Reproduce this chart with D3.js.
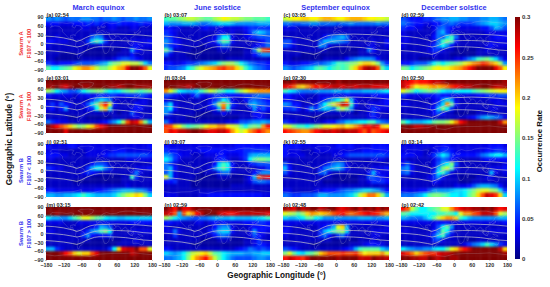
<!DOCTYPE html>
<html>
<head>
<meta charset="utf-8">
<script src="https://cdn.jsdelivr.net/npm/d3@7"></script>
<style>
  html, body { margin: 0; padding: 0; background: #fff; }
  text { font-family: "Liberation Sans", Arial, sans-serif; font-weight: bold; }
  .tick text { fill: #333; font-size: 5.4px; }
  .tick line, .domain { stroke: #666; stroke-width: 0.4; }
</style>
</head>
<body>
<script>
// Occurrence rate per panel in hundredths, rows from 90N to 90S (15 deg), columns from 180W (15 deg)
const panelA = [
[8,7,8,7,6,7,7,7,8,8,7,7,6,7,7,8,7,6,7,7,8,7,7,8],
[4,4,4,3,3,3,4,4,4,5,4,5,4,3,4,4,5,4,4,4,4,5,4,4],
[2,2,2,2,2,2,2,2,3,3,2,2,2,2,3,3,2,2,2,3,3,2,2,2],
[2,2,2,2,2,2,2,2,2,2,2,2,2,2,2,2,2,2,2,2,2,2,2,2],
[2,2,3,2,2,2,2,2,2,2,6,8,7,2,2,2,2,2,2,2,2,2,2,2],
[4,4,3,3,3,2,2,2,2,5,10,13,11,5,2,2,2,2,2,3,3,3,3,4],
[3,2,2,2,2,2,2,2,2,2,2,2,3,2,2,2,2,2,2,3,4,3,3,3],
[2,2,2,2,2,2,2,2,2,1,1,1,1,1,1,1,1,2,2,8,4,3,2,2],
[2,2,2,1,1,1,1,2,1,1,1,1,1,1,1,1,2,2,2,4,2,2,2,2],
[2,2,1,1,1,1,1,1,2,2,2,2,2,2,2,3,5,6,6,5,4,3,2,2],
[5,4,3,4,4,4,5,6,6,6,6,7,8,9,13,15,16,18,18,17,17,15,10,7],
[14,11,11,13,14,15,18,20,22,22,20,17,15,15,17,19,21,22,27,30,30,28,24,18]];
const panelB = [
[13,14,14,15,16,17,17,16,15,14,14,16,17,19,18,17,17,16,15,15,14,14,14,13],
[9,8,8,8,9,9,9,8,7,7,8,9,10,10,10,9,8,8,8,8,8,9,9,9],
[4,4,3,3,2,2,2,2,3,4,3,3,3,3,3,3,3,3,4,5,5,5,5,5],
[5,4,3,2,2,2,2,2,2,2,2,2,3,3,2,3,2,2,3,5,8,10,9,7],
[6,5,3,2,2,2,2,2,2,2,2,3,7,11,11,3,2,2,3,4,5,6,6,6],
[8,6,4,3,2,2,2,2,2,2,3,4,9,14,13,4,2,2,2,2,2,3,4,6],
[7,5,4,3,2,2,2,2,1,2,2,2,4,7,6,2,2,2,2,2,3,4,5,7],
[14,8,2,2,2,2,1,1,1,1,1,1,2,2,2,1,1,1,2,2,7,16,24,25],
[6,3,2,2,2,1,1,1,1,1,1,1,1,1,1,1,1,1,2,2,4,6,8,8],
[2,2,2,2,2,2,1,1,1,1,1,1,1,1,2,2,2,2,2,2,2,2,2,2],
[4,4,3,3,4,5,5,6,7,8,9,10,13,15,16,16,14,11,9,7,6,5,5,4],
[5,6,6,7,8,11,13,16,18,20,21,22,24,25,23,23,20,17,13,10,8,7,6,5]];
const panelC = [
[17,18,19,19,20,20,19,19,20,21,21,20,19,19,20,21,21,21,20,19,19,18,18,17],
[7,7,6,6,7,7,8,8,7,7,7,7,6,7,7,8,7,7,7,7,7,8,7,7],
[3,3,3,2,2,2,2,2,2,2,2,2,2,2,2,2,2,2,2,2,2,2,2,3],
[2,2,2,2,2,2,2,2,2,2,2,2,2,2,2,2,2,2,2,2,2,2,2,2],
[2,2,2,2,2,2,2,2,2,4,6,7,8,9,7,2,2,2,2,2,2,2,2,2],
[6,6,3,2,2,2,2,2,6,9,9,9,8,7,6,2,2,2,2,2,3,2,2,4],
[6,5,3,2,2,2,2,2,8,7,3,2,2,2,2,2,2,2,2,3,3,2,2,3],
[2,2,2,2,2,2,2,2,2,2,1,1,1,1,1,1,1,2,2,7,4,2,2,2],
[2,2,2,2,1,1,1,1,1,1,1,1,1,1,1,1,1,2,2,2,2,2,2,2],
[2,2,1,1,1,1,1,1,1,2,2,2,2,2,4,6,7,8,8,8,7,4,2,2],
[4,3,3,3,4,4,5,6,6,7,8,10,13,13,14,15,16,18,20,20,18,15,8,5],
[8,7,6,7,8,9,10,13,14,13,11,13,14,13,14,17,20,24,28,29,28,24,14,10]];
const panelD = [
[6,5,4,4,4,5,5,6,7,8,8,9,9,8,8,7,7,7,8,8,9,9,8,7],
[7,6,5,4,4,3,3,4,4,6,6,7,6,5,5,5,6,7,8,9,10,10,9,8],
[5,4,4,3,3,2,2,3,6,7,5,4,3,3,3,3,3,3,4,4,6,9,8,6],
[3,2,2,2,2,2,2,3,7,9,5,3,2,2,2,2,2,2,2,3,3,3,3,3],
[3,3,2,2,2,2,2,4,7,6,10,13,7,2,2,2,2,2,2,2,3,4,4,4],
[3,3,2,2,2,2,2,3,7,13,15,13,4,2,2,2,2,2,2,2,3,3,3,3],
[3,2,2,2,2,2,3,5,8,11,8,4,2,2,2,2,2,2,2,3,4,3,3,3],
[2,2,2,2,2,2,3,5,5,3,2,2,1,1,1,1,1,2,2,3,2,2,2,2],
[2,2,2,2,2,2,2,3,2,2,2,1,1,1,1,1,1,2,2,2,2,2,2,2],
[2,2,2,2,1,1,1,2,2,2,2,2,3,3,5,7,9,13,14,15,13,10,6,3],
[4,4,5,6,6,6,8,11,13,11,13,14,15,16,18,20,22,23,25,24,22,20,16,8],
[15,14,11,13,14,15,16,18,19,18,18,20,21,22,24,26,28,30,30,30,30,27,24,19]];
const panelE = [
[30,30,30,30,30,30,30,30,30,30,30,30,30,30,30,30,30,30,30,30,30,30,30,30],
[29,29,30,28,27,29,30,30,29,29,30,30,30,30,29,29,28,29,30,30,29,29,29,29],
[16,14,11,9,8,6,6,8,11,13,14,15,15,13,11,10,11,13,14,15,14,13,14,15],
[4,3,3,3,3,3,2,3,3,4,3,4,5,4,5,5,4,4,5,5,5,6,5,4],
[2,2,2,2,2,2,2,2,2,2,5,8,10,9,7,2,2,2,2,2,2,3,3,2],
[3,5,3,6,4,3,2,2,3,6,10,14,22,26,18,4,2,2,2,2,4,3,3,2],
[3,4,2,4,8,2,2,2,2,4,5,11,17,21,10,2,2,2,2,3,4,4,2,2],
[2,2,2,2,2,2,2,2,2,2,2,2,2,2,2,2,1,2,2,6,3,2,2,2],
[2,2,2,2,2,1,1,2,2,1,1,1,1,1,1,2,2,2,2,3,3,3,2,2],
[7,5,4,3,3,2,2,2,2,2,2,2,3,4,6,8,11,16,24,28,27,22,15,9],
[30,28,26,24,22,20,17,15,16,18,20,24,26,28,30,30,30,30,30,30,30,30,30,30],
[30,30,30,30,27,30,30,30,30,30,30,30,30,30,30,30,30,30,30,30,30,30,30,30]];
const panelF = [
[30,30,30,30,30,30,30,30,30,30,30,30,30,30,30,30,30,30,30,30,30,30,30,30],
[30,30,30,29,29,28,29,30,30,30,30,30,30,30,30,30,30,30,30,30,30,30,30,30],
[22,18,15,11,10,9,9,10,13,15,17,16,14,13,11,11,14,16,18,20,21,22,22,22],
[6,5,4,3,3,2,4,7,4,3,4,5,5,4,4,4,4,4,5,5,6,7,7,7],
[3,2,2,2,2,2,2,2,2,2,3,5,7,11,9,3,2,2,4,6,7,6,5,4],
[7,10,3,2,2,2,2,2,2,2,4,8,16,22,14,5,3,2,2,8,9,7,6,5],
[8,11,4,2,2,2,2,2,2,2,3,4,9,24,11,3,2,2,2,3,8,4,6,4],
[8,5,2,2,2,2,2,1,1,1,1,2,2,4,2,2,2,2,2,2,4,4,3,2],
[2,2,2,2,2,1,1,1,1,1,1,1,1,1,1,1,1,2,2,2,3,4,3,2],
[7,4,2,2,2,2,2,2,2,2,2,2,2,2,3,3,4,6,6,7,8,8,9,8],
[25,24,20,18,15,13,14,15,16,18,20,20,22,22,19,18,17,14,11,14,15,14,22,26],
[24,27,26,28,28,29,30,30,29,28,27,27,28,28,26,22,19,17,19,22,24,26,24,22]];
const panelG = [
[30,30,29,30,30,30,30,30,30,30,30,30,29,30,30,30,30,30,30,30,30,30,30,30],
[27,26,24,21,20,22,24,26,25,27,27,28,28,27,28,28,27,28,28,28,27,27,27,27],
[13,11,10,8,7,7,7,8,8,8,8,9,9,8,9,8,8,8,9,9,9,9,10,11],
[4,4,3,3,3,2,2,2,3,3,3,3,3,3,4,3,3,3,3,3,4,4,4,4],
[4,4,3,2,2,2,2,2,3,5,7,9,11,14,18,9,3,2,2,2,2,2,3,4],
[8,7,4,4,2,2,2,3,7,11,15,18,22,28,26,13,4,2,2,3,3,3,3,4],
[5,5,6,4,2,4,8,5,8,10,9,7,14,17,14,8,2,2,2,3,5,4,3,3],
[2,2,2,2,2,2,2,2,2,2,2,2,2,2,2,2,1,2,2,3,5,3,2,2],
[2,2,2,2,2,2,1,1,1,1,1,1,1,2,2,2,2,2,2,3,4,3,2,2],
[5,4,3,2,2,2,2,2,2,3,4,4,6,7,9,9,10,11,11,13,13,9,7,6],
[18,17,15,13,13,11,13,15,16,18,18,19,20,21,19,20,22,24,27,26,28,26,20,19],
[26,25,24,23,22,22,24,26,27,28,28,27,28,29,28,28,28,26,24,27,24,25,26,27]];
const panelH = [
[28,27,26,25,26,26,27,28,28,29,30,30,30,30,30,30,30,30,30,30,30,30,30,29],
[28,26,22,19,20,20,21,22,21,22,23,25,26,27,28,28,29,29,30,30,29,28,28,29],
[18,16,14,11,13,14,15,14,13,11,10,10,11,11,11,11,13,14,15,16,17,18,19,19],
[5,4,3,3,3,4,4,4,5,4,4,3,3,3,3,3,3,4,4,5,5,5,6,6],
[2,2,2,2,2,2,2,3,4,8,10,8,3,2,2,2,2,2,2,2,3,3,3,2],
[3,3,2,2,2,2,2,3,6,10,22,14,4,2,2,2,2,2,2,2,2,3,3,3],
[2,2,2,2,2,2,3,4,10,15,11,5,2,2,2,2,2,2,2,2,3,3,2,2],
[2,2,2,2,2,2,2,4,6,4,2,2,1,1,1,1,1,2,2,2,2,2,2,2],
[2,2,2,2,2,2,2,2,2,2,2,2,2,2,2,3,4,6,8,9,8,7,6,3],
[14,11,9,9,9,10,11,14,15,15,16,18,22,26,28,30,30,30,30,30,30,30,28,22],
[30,30,29,28,28,29,29,30,30,30,30,30,30,30,30,30,30,30,30,30,30,30,30,30],
[30,30,30,30,30,30,30,30,30,30,30,30,30,30,30,30,30,30,30,30,30,30,30,30]];
const panelI = [
[4,3,3,3,3,4,4,3,3,3,3,3,3,3,3,3,3,3,3,3,3,3,3,4],
[3,3,3,2,2,2,2,2,2,3,3,3,3,3,3,4,4,4,3,3,3,3,3,3],
[4,4,4,3,3,2,2,2,2,3,3,3,3,4,5,5,6,6,6,6,6,6,6,5],
[3,3,2,2,2,2,2,2,2,2,2,2,2,2,2,2,2,2,3,3,3,3,3,3],
[2,2,2,2,2,2,2,2,2,2,4,6,6,5,2,2,2,2,2,2,2,2,2,2],
[5,4,3,3,2,2,2,2,2,5,9,11,11,7,5,2,2,2,2,2,3,3,3,4],
[2,2,2,2,2,2,2,2,3,5,4,3,2,2,2,2,2,2,2,3,7,3,2,2],
[2,2,2,2,2,2,2,2,2,2,1,1,1,1,1,1,1,2,2,13,5,2,2,2],
[2,2,2,2,2,2,1,1,1,1,1,1,1,1,1,1,1,2,2,2,2,2,2,2],
[2,2,2,2,2,2,2,2,2,2,2,2,2,2,2,2,2,2,3,2,2,2,2,2],
[4,4,3,3,3,3,3,3,3,3,3,4,4,5,6,7,8,9,9,9,8,8,7,5],
[9,9,8,8,9,9,10,11,13,11,10,9,9,9,9,10,13,15,17,18,20,19,15,10]];
const panelJ = [
[4,3,3,3,3,3,3,3,3,3,3,3,3,3,3,3,4,4,4,4,4,4,4,4],
[5,4,4,3,3,3,3,3,4,4,4,4,4,4,4,4,4,4,5,5,5,5,5,5],
[8,7,5,4,3,3,2,2,2,3,3,3,4,4,3,3,3,4,5,8,9,9,9,9],
[11,9,5,3,2,2,2,2,2,2,2,3,4,5,3,2,2,3,5,11,14,15,15,14],
[7,5,3,2,2,2,2,2,2,2,2,4,10,13,11,4,2,2,2,4,5,6,6,6],
[7,9,4,2,2,2,2,2,2,2,3,7,11,14,11,4,2,2,2,2,2,3,3,5],
[6,9,3,2,2,2,2,2,1,2,2,2,5,7,7,2,2,2,2,2,4,6,8,8],
[18,9,3,2,2,2,2,1,1,1,1,1,2,2,2,1,1,1,2,4,9,24,27,26],
[4,4,5,2,2,2,1,1,1,1,1,1,1,1,1,1,1,1,2,3,6,7,7,6],
[2,2,2,2,2,2,1,1,1,1,1,1,1,1,1,2,2,2,2,2,2,2,2,2],
[2,2,2,2,2,2,2,2,2,2,2,2,2,2,2,2,2,2,2,2,2,2,2,2],
[3,3,3,2,2,2,2,2,3,3,4,4,4,4,4,4,4,4,4,4,4,4,3,3]];
const panelK = [
[4,4,4,4,3,3,3,3,3,3,3,3,4,4,4,4,3,3,3,3,4,4,4,4],
[4,3,3,3,2,2,2,3,3,3,3,3,3,3,3,3,3,3,4,4,4,4,4,4],
[4,3,3,3,3,2,2,2,2,2,2,3,3,4,5,6,6,6,6,6,6,6,6,5],
[2,2,2,2,2,2,2,2,2,2,2,2,2,2,2,2,2,2,2,2,3,3,3,2],
[6,3,2,2,2,2,2,2,2,3,5,7,8,7,3,2,2,2,2,2,2,2,2,2],
[9,4,2,2,2,2,2,2,4,7,8,9,10,7,4,2,2,2,2,2,3,3,3,4],
[6,3,2,2,2,2,2,2,6,7,3,2,2,2,2,2,2,2,2,4,9,4,3,3],
[2,2,2,2,2,2,2,2,2,2,2,1,1,1,1,1,1,2,2,6,6,5,4,3],
[2,2,2,2,2,2,2,2,2,1,1,1,1,1,1,1,1,2,2,3,5,5,5,4],
[2,2,2,2,2,2,2,2,2,2,2,2,2,2,2,2,2,2,2,2,2,2,2,2],
[3,3,2,2,2,2,2,3,3,4,4,4,5,6,7,7,8,9,10,10,9,8,6,4],
[7,6,5,5,6,6,6,7,9,9,8,8,8,8,9,10,13,17,20,23,23,20,15,9]];
const panelL = [
[3,3,3,3,3,3,3,3,3,4,4,3,3,3,3,3,3,3,3,3,4,4,4,3],
[3,3,3,3,3,2,2,3,4,5,5,4,3,3,3,3,3,3,3,4,4,5,5,4],
[4,4,4,3,3,2,3,5,8,11,9,5,4,4,4,4,4,5,7,8,10,11,11,9],
[3,2,2,2,2,2,2,3,5,7,6,4,3,2,2,2,2,2,3,4,4,4,4,4],
[4,6,3,2,2,2,2,3,6,9,11,15,6,2,2,2,2,2,2,2,2,2,2,3],
[7,8,4,2,2,2,2,3,9,15,17,13,4,2,2,2,2,2,2,2,3,3,3,4],
[6,7,3,2,2,2,2,5,11,13,8,3,2,2,2,2,2,2,2,2,9,3,2,3],
[2,2,2,2,2,2,3,5,8,4,2,2,2,1,1,1,1,2,2,3,3,2,2,2],
[2,2,2,2,2,2,2,4,3,2,2,2,2,1,1,1,2,2,2,2,2,2,2,2],
[2,2,2,2,2,2,2,2,2,2,2,2,3,3,3,4,6,8,9,9,8,7,4,2],
[3,3,3,3,4,4,6,8,8,8,8,9,10,10,11,13,15,17,18,18,16,15,10,5],
[7,7,7,8,9,11,14,15,15,14,13,11,11,10,11,14,16,20,24,28,27,25,20,10]];
const panelM = [
[30,30,30,30,30,30,30,30,30,30,30,30,30,30,30,30,30,30,30,30,30,30,30,30],
[30,30,29,30,30,30,30,30,30,30,30,30,30,30,30,30,30,30,30,30,30,30,30,30],
[11,9,9,8,8,10,13,15,18,18,16,14,13,11,10,10,9,9,10,10,10,10,10,10],
[3,3,3,3,2,2,2,3,3,3,3,3,3,3,3,3,3,3,3,4,4,4,4,4],
[2,2,2,2,2,2,2,2,2,2,3,5,9,8,6,2,2,2,2,2,2,2,2,2],
[3,3,2,2,2,2,2,2,3,5,8,9,13,15,11,2,2,2,2,3,3,3,3,3],
[2,2,2,2,2,2,2,2,5,8,4,3,4,4,5,2,2,2,2,2,2,2,2,2],
[2,2,2,2,2,2,2,2,2,2,1,1,1,1,1,1,1,2,2,2,3,2,2,2],
[2,2,2,2,2,2,1,1,1,1,1,1,1,1,1,1,2,2,2,2,2,2,2,2],
[9,9,5,3,2,2,2,2,2,2,2,2,2,2,5,11,20,27,28,28,30,24,24,18],
[30,30,30,29,26,24,20,18,20,20,24,27,30,30,30,30,30,30,30,28,29,30,30,30],
[30,30,30,30,30,30,30,30,30,30,30,30,30,30,30,30,30,30,30,30,30,30,30,30]];
const panelN = [
[30,28,26,30,27,27,29,30,30,30,30,30,30,30,30,30,30,30,30,30,30,30,30,30],
[28,27,24,9,24,20,22,26,28,30,30,30,28,27,26,26,27,28,28,28,28,28,28,27],
[16,14,11,9,8,7,6,6,7,7,8,9,9,9,9,10,9,9,9,9,10,10,11,13],
[4,4,3,3,2,2,2,3,3,2,3,4,3,4,3,3,3,3,4,4,4,5,5,4],
[3,2,2,2,2,2,2,2,2,2,2,4,7,8,8,3,2,2,2,3,4,4,4,4],
[3,3,7,3,2,2,2,2,2,2,4,6,9,10,10,4,2,2,2,3,8,4,4,3],
[2,2,5,2,2,2,2,2,2,2,2,4,6,7,6,2,2,2,2,3,6,4,3,2],
[2,2,2,2,2,2,2,2,1,1,1,1,2,2,2,1,1,1,2,2,3,5,2,2],
[2,2,2,2,2,2,1,1,1,1,1,1,1,1,1,1,1,1,2,2,3,5,4,3],
[4,3,2,2,2,2,2,2,2,2,2,2,2,2,2,2,3,4,5,7,6,5,6,5],
[10,9,8,9,11,14,17,18,19,20,17,14,13,11,10,9,9,9,8,8,9,9,10,10],
[7,7,8,9,11,15,19,22,24,26,22,17,14,11,9,7,6,6,6,6,7,8,8,7]];
const panelO = [
[29,28,27,30,28,29,30,30,28,29,30,30,28,27,28,29,30,28,30,29,30,28,30,29],
[18,17,16,14,16,20,22,21,20,21,22,24,25,26,24,23,24,25,26,27,26,25,23,21],
[10,9,9,10,11,14,14,11,10,8,8,8,8,8,8,8,8,9,9,9,8,8,8,9],
[3,3,3,3,3,3,3,3,3,3,3,3,3,3,3,3,3,3,3,3,3,3,3,3],
[3,3,2,2,2,2,2,2,3,4,6,9,18,20,9,2,2,2,2,2,2,2,2,3],
[4,3,2,2,2,2,2,2,5,9,11,13,15,16,10,2,2,2,2,2,3,3,3,3],
[3,2,2,2,2,2,2,2,5,7,4,2,5,7,4,2,2,2,2,2,3,3,2,2],
[2,2,2,2,2,2,2,2,2,2,2,1,1,1,1,1,1,2,2,2,3,2,2,2],
[2,2,2,2,2,2,1,1,1,1,1,1,1,1,1,2,2,2,3,4,4,4,3,2],
[6,5,4,3,2,2,2,2,2,2,2,2,2,3,4,5,9,13,14,14,14,14,10,8],
[15,18,14,11,10,13,14,16,20,22,24,24,24,25,24,24,25,22,19,20,20,20,22,18],
[26,28,27,26,25,28,30,30,30,30,30,30,29,30,30,30,30,28,28,28,30,29,29,28]];
const panelP = [
[26,24,17,14,11,11,13,14,15,18,18,22,25,27,28,28,29,29,30,29,30,28,26,27],
[14,13,11,11,11,11,11,11,13,13,14,13,11,18,22,22,24,25,28,28,28,24,18,16],
[9,8,7,7,7,9,11,14,17,20,22,22,20,13,11,9,8,8,8,8,8,8,9,9],
[3,3,3,3,3,3,3,3,4,4,4,3,3,3,3,3,3,3,3,3,3,3,3,4],
[2,2,2,2,2,2,2,3,6,11,14,8,2,2,2,2,2,2,2,2,2,2,2,2],
[3,3,2,2,2,2,2,4,7,14,11,5,2,2,2,2,2,2,2,2,3,3,3,3],
[2,2,2,2,2,2,3,6,10,13,6,3,2,2,2,2,2,2,2,2,2,2,2,2],
[2,2,2,2,2,2,2,5,6,3,2,2,2,1,1,1,1,2,2,2,2,2,2,2],
[2,2,2,2,2,2,2,2,2,2,2,2,2,2,3,5,7,8,10,13,10,8,5,3],
[11,9,8,7,7,8,8,10,11,11,14,18,20,24,26,28,30,30,30,30,30,30,28,20],
[27,25,23,20,22,24,25,25,27,28,28,29,30,30,30,30,30,30,30,30,30,30,30,29],
[30,30,29,29,28,28,30,29,28,29,30,29,29,30,30,30,30,30,30,30,30,30,30,30]];

const panels = [panelA, panelB, panelC, panelD, panelE, panelF, panelG, panelH,
                panelI, panelJ, panelK, panelL, panelM, panelN, panelO, panelP];
const panelLabels = ["(a) 02:54", "(b) 03:07", "(c) 03:05", "(d) 02:59",
                     "(e) 03:01", "(f) 03:04", "(g) 02:30", "(h) 02:50",
                     "(i) 02:51", "(j) 03:07", "(k) 02:55", "(l) 03:14",
                     "(m) 03:15", "(n) 02:59", "(o) 02:48", "(p) 02:42"];
const seasons = ["March equinox", "June solstice", "September equinox", "December solstice"];
const seasonCentres = [98.5, 217.5, 335.5, 454];
const rowSats = ["Swarm A", "Swarm A", "Swarm B", "Swarm B"];
const rowFlux = ["F107 < 100", "F107 > 100", "F107 < 100", "F107 > 100"];
const lonTicks = [-180, -120, -60, 0, 60, 120, 180];
const latTicks = [90, 60, 30, 0, -30, -60, -90];
const rateTicks = [0, 0.05, 0.1, 0.15, 0.2, 0.25, 0.3];

// Dip equator and the two lines either side of it
const lineLons  = [-180,-150,-120,-90,-75,-60,-45,-30,-15,0,30,60,90,120,150,180];
const upperLats = [25,23,19,12,7,12,20,26,29,30,31,32,31,30,28,25];
const equatorLats = [1,-1,-4,-9,-12,-9,-3,3,7,9,10,10,9,7,3,1];
const lowerLats = [-24,-26,-29,-34,-37,-32,-24,-18,-13,-11,-11,-12,-14,-18,-22,-24];

// Rough coastlines
const coasts = [
  [[-165,65],[-160,71],[-140,70],[-125,70],[-110,68],[-95,70],[-85,68],[-92,58],[-82,52],[-78,62],[-65,60],[-56,52],[-66,45],[-75,38],[-81,30],[-81,25],[-84,30],[-97,27],[-97,20],[-90,21],[-88,16],[-83,10],[-78,8],[-85,11],[-95,16],[-105,20],[-112,28],[-117,33],[-124,40],[-124,48],[-135,58],[-150,60],[-165,55],[-158,60],[-165,65]],
  [[-78,8],[-72,12],[-62,10],[-52,5],[-50,0],[-35,-6],[-39,-15],[-41,-22],[-48,-26],[-54,-34],[-58,-38],[-65,-42],[-68,-52],[-72,-52],[-74,-42],[-71,-30],[-70,-18],[-77,-12],[-81,-5],[-78,2],[-78,8]],
  [[-17,15],[-16,22],[-10,30],[-5,36],[10,37],[11,33],[20,31],[32,31],[37,20],[43,12],[51,11],[47,3],[40,-4],[39,-12],[35,-20],[33,-27],[26,-34],[19,-34],[15,-25],[12,-15],[13,-5],[9,3],[5,5],[-7,4],[-13,8],[-17,15]],
  [[-9,37],[-9,43],[-1,45],[-4,48],[4,52],[9,55],[12,54],[20,55],[22,59],[18,60],[14,56],[5,59],[14,67],[26,71],[40,67],[60,69],[70,73],[90,76],[110,76],[130,72],[160,70],[178,68],[170,60],[160,53],[155,58],[140,55],[135,44],[127,39],[126,35],[120,38],[122,30],[115,22],[108,20],[109,12],[105,9],[100,13],[101,3],[98,8],[95,16],[90,22],[80,15],[77,8],[73,18],[67,25],[57,25],[50,30],[56,24],[59,22],[52,16],[44,13],[35,28],[36,36],[28,37],[26,40],[22,37],[18,40],[12,44],[8,44],[0,39],[-5,36],[-9,37]],
  [[114,-22],[122,-18],[130,-12],[136,-12],[140,-17],[146,-19],[153,-27],[150,-37],[143,-39],[135,-34],[125,-33],[115,-34],[114,-22]],
  [[-55,60],[-45,60],[-22,70],[-18,80],[-35,83],[-60,82],[-72,77],[-55,70],[-55,60]],
  [[95,5],[105,-6],[115,-8],[105,-3],[98,3],[95,5]],
  [[110,0],[117,7],[118,0],[115,-4],[110,0]],
  [[131,-2],[141,-3],[150,-9],[141,-9],[135,-4],[131,-2]],
  [[130,32],[136,34],[141,37],[141,43],[138,38],[132,35],[130,32]],
  [[44,-16],[50,-14],[47,-25],[44,-24],[44,-16]],
  [[-5,50],[1,52],[-2,58],[-6,56],[-5,50]],
  [[-180,-72],[-150,-76],[-120,-73],[-90,-72],[-60,-65],[-60,-75],[-30,-78],[0,-70],[40,-68],[80,-68],[120,-66],[160,-70],[180,-72]]
];

const plotW = 106, plotH = 53;
const colLefts = [46, 164, 283, 401];
const rowTops = [17, 80, 144, 207];

// jet colour map
const jet = ["#00007f", "#0000ff", "#00ffff", "#ffff00", "#ff0000", "#7f0000"];
const jetStops = [0, 0.125, 0.375, 0.625, 0.875, 1];
const color = d3.scaleLinear().domain(jetStops.map(d => d * 0.3)).range(jet).clamp(true);

const svg = d3.select("body").append("svg")
  .attr("width", 550).attr("height", 287)
  .style("display", "block");

const defs = svg.append("defs");
defs.append("filter").attr("id", "soften")
    .attr("x", "-5%").attr("y", "-5%").attr("width", "110%").attr("height", "110%")
    .attr("color-interpolation-filters", "sRGB")
  .append("feGaussianBlur").attr("stdDeviation", 1.0);
defs.append("clipPath").attr("id", "panel-clip")
  .append("rect").attr("width", plotW).attr("height", plotH);

const x = d3.scaleLinear().domain([-180, 180]).range([0, plotW]);
const y = d3.scaleLinear().domain([90, -90]).range([0, plotH]);
const cellLon = d3.range(24).map(i => -180 + i * 15);
const cellLat = d3.range(12).map(i => 90 - i * 15);
const line = d3.line().x(d => x(d[0])).y(d => y(d[1]));

panels.forEach(function(values, i) {
  const col = i % 4, row = Math.floor(i / 4);
  const g = svg.append("g")
    .attr("transform", "translate(" + colLefts[col] + "," + rowTops[row] + ")");

  // Heat map, outer cells stretched past the clip so the blur does not fade at the edge
  const clipped = g.append("g").attr("clip-path", "url(#panel-clip)");
  const cells = clipped.append("g").attr("filter", "url(#soften)");
  values.forEach(function(rowValues, r) {
    rowValues.forEach(function(v, c) {
      const pl = c === 0 ? 4 : 0, pr = c === 23 ? 4 : 0;
      const pt = r === 0 ? 4 : 0, pb = r === 11 ? 4 : 0;
      cells.append("rect")
        .attr("x", x(cellLon[c]) - pl)
        .attr("y", y(cellLat[r]) - pt)
        .attr("width", x(15) - x(0) + pl + pr + 0.3)
        .attr("height", y(0) - y(15) + pt + pb + 0.3)
        .attr("fill", color(v / 100));
    });
  });

  clipped.selectAll(".coast").data(coasts).enter().append("path")
    .attr("class", "coast")
    .attr("d", line)
    .attr("fill", "none")
    .attr("stroke", "#c8c8d8")
    .attr("stroke-opacity", 0.5)
    .attr("stroke-width", 0.4);

  [upperLats, equatorLats, lowerLats].forEach(function(lats) {
    clipped.append("path")
      .attr("d", line(lineLons.map((lon, k) => [lon, lats[k]])))
      .attr("fill", "none")
      .attr("stroke", "#c4c4cc")
      .attr("stroke-width", 0.7);
  });

  // Axes
  if (col === 0) {
    g.append("g").call(d3.axisLeft(y).tickValues(latTicks).tickSize(1).tickPadding(1.5))
      .call(a => a.select(".domain").remove());
  }
  if (row === 3) {
    g.append("g").attr("transform", "translate(0," + plotH + ")")
      .call(d3.axisBottom(x).tickValues(lonTicks).tickSize(1).tickPadding(2))
      .call(a => a.select(".domain").remove());
  }

  g.append("text")
    .attr("x", 0.5).attr("y", -0.4)
    .style("font-size", "5.5px").attr("fill", "#222")
    .text(panelLabels[i]);
});

// Column titles
seasons.forEach(function(s, i) {
  svg.append("text")
    .attr("x", seasonCentres[i]).attr("y", 10)
    .attr("text-anchor", "middle")
    .style("font-size", "7.4px").attr("fill", "#3333ee")
    .text(s);
});

// Row titles
rowTops.forEach(function(top, i) {
  const c = i < 2 ? "#f03030" : "#3333ee";
  [[rowSats[i], 23], [rowFlux[i], 31]].forEach(function(t) {
    svg.append("text")
      .attr("transform", "translate(" + t[1] + "," + (top + plotH / 2) + ") rotate(-90)")
      .attr("text-anchor", "middle")
      .style("font-size", "5.8px").attr("fill", c)
      .text(t[0]);
  });
});

svg.append("text")
  .attr("transform", "translate(12,139) rotate(-90)")
  .attr("text-anchor", "middle")
  .style("font-size", "8.4px").attr("fill", "#111")
  .text("Geographic Latitude (°)");

svg.append("text")
  .attr("x", 276.5).attr("y", 278)
  .attr("text-anchor", "middle")
  .style("font-size", "8.2px").attr("fill", "#111")
  .text("Geographic Longitude (°)");

// Colour bar
const barScale = d3.scaleLinear().domain([0, 0.3]).range([259, 17]);
const gradient = defs.append("linearGradient").attr("id", "jet-bar")
  .attr("x1", 0).attr("y1", 1).attr("x2", 0).attr("y2", 0);
jetStops.forEach(function(s, k) {
  gradient.append("stop").attr("offset", s).attr("stop-color", jet[k]);
});
svg.append("rect")
  .attr("x", 515).attr("y", 17).attr("width", 5).attr("height", 242)
  .attr("fill", "url(#jet-bar)");
svg.append("g").attr("class", "bar-axis").attr("transform", "translate(520,0)")
  .call(d3.axisRight(barScale).tickValues(rateTicks).tickSize(0).tickPadding(2).tickFormat(d => String(d)))
  .call(a => a.select(".domain").remove())
  .call(a => a.selectAll("text").style("font-size", "6px"));
svg.append("text")
  .attr("transform", "translate(542,141) rotate(-90)")
  .attr("text-anchor", "middle")
  .style("font-size", "7.8px").attr("fill", "#111")
  .text("Occurrence Rate");
</script>
</body>
</html>
